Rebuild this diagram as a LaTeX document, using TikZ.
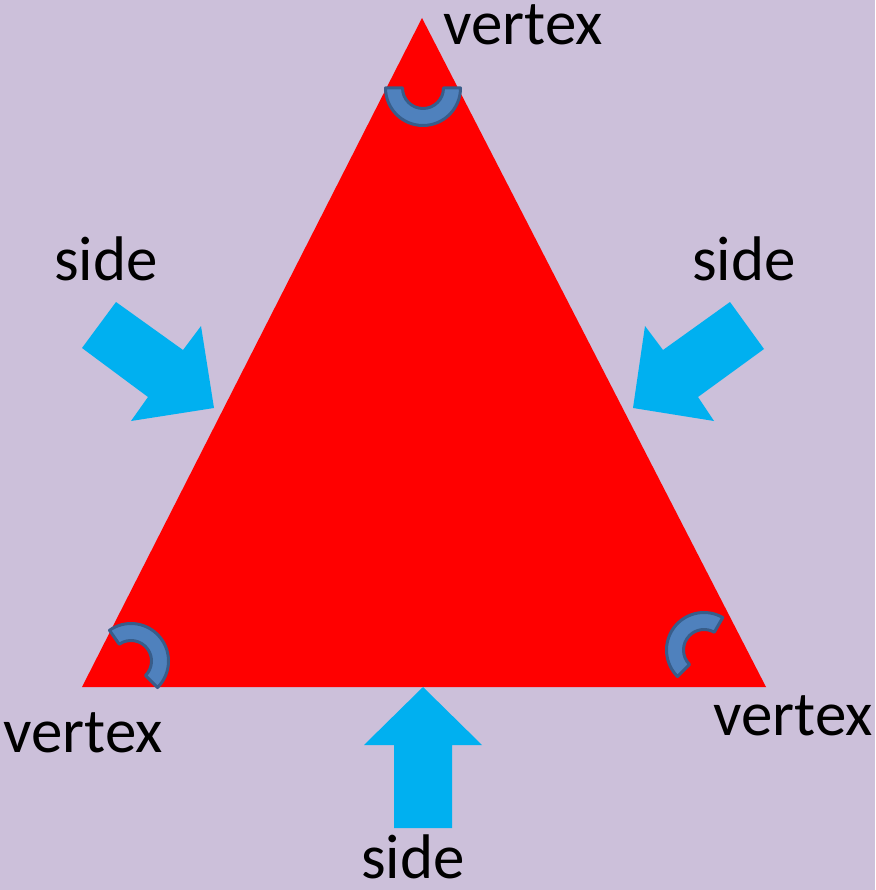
\documentclass[tikz,border=0pt]{standalone}
\usepackage{fontspec}
\setmainfont{Carlito}
\usepackage{xcolor}
\usepackage{tikz}
\usetikzlibrary{calc}
\definecolor{BackLilac}{HTML}{CCC0DA}
\definecolor{ShapeRed}{HTML}{FF0000}
\definecolor{ArrowCyan}{HTML}{00B0F0}
\definecolor{ArcBlue}{HTML}{4F81BD}
\definecolor{ArcEdge}{HTML}{385D8A}

\begin{document}
\begin{tikzpicture}[
    x=1pt, y=-1pt,
    font=\fontsize{63}{70}\selectfont,
    label/.style={anchor=base, inner sep=0pt, text=black},
    blockarrow/.style={fill=ArrowCyan, draw=none},
    blockarc/.style={fill=ArcBlue, draw=ArcEdge, line width=3pt, line join=round}
]
% 背景
\fill[BackLilac] (0,0) rectangle (875,890);
\useasboundingbox (0,0) rectangle (875,890);

% 三角形的三个顶点
\coordinate (top) at (422,18);
\coordinate (botleft) at (82,687);
\coordinate (botright) at (766,687);
\fill[ShapeRed] (top) -- (botleft) -- (botright) -- cycle;

% 顶点处的角标（半圆环）
\coordinate (ctop) at (423,88);
\coordinate (cleft) at (131,661);
\coordinate (cright) at (704,650);
\draw[blockarc] ($(ctop)+(0:37.5)$) arc[start angle=0, end angle=180, radius=37.5]
    -- ($(ctop)+(180:20.5)$) arc[start angle=180, end angle=0, radius=20.5] -- cycle;
\draw[blockarc] ($(cleft)+(45:37.5)$) arc[start angle=45, end angle=-125, radius=37.5]
    -- ($(cleft)+(-125:20.5)$) arc[start angle=-125, end angle=45, radius=20.5] -- cycle;
\draw[blockarc] ($(cright)+(-60:37.5)$) arc[start angle=-60, end angle=-225, radius=37.5]
    -- ($(cright)+(-225:20.5)$) arc[start angle=-225, end angle=-60, radius=20.5] -- cycle;

% 指向三条边的箭头
\fill[blockarrow] (214,408) -- (131,421) -- (148,397) -- (82,348) -- (116,302) -- (183,350) -- (201,326) -- cycle;
\fill[blockarrow] (633,408) -- (645,326) -- (663,350) -- (730,302) -- (764,349) -- (698,397) -- (714,421) -- cycle;
\fill[blockarrow] (423,687) -- (482,745) -- (452,745) -- (452,828) -- (394,828) -- (394,745) -- (364,745) -- cycle;

% 文字标注
\node[label] (vtop) at (523,45) {vertex};
\node[label] (vleft) at (83,752) {vertex};
\node[label] (vright) at (793,735) {vertex};
\node[label] (sleft) at (106,280) {side};
\node[label] (sright) at (744,280) {side};
\node[label] (sbottom) at (413,878) {side};
\end{tikzpicture}
\end{document}
